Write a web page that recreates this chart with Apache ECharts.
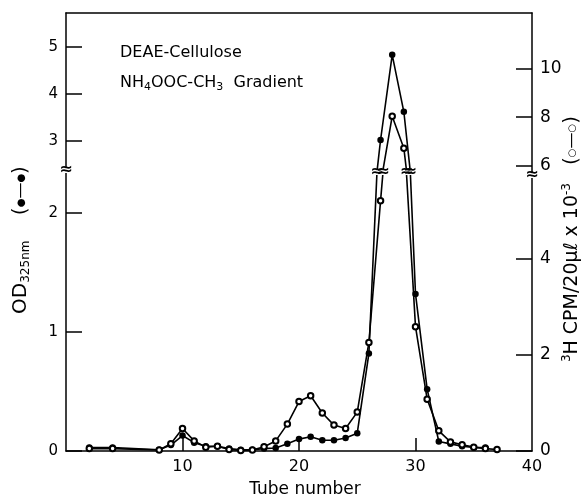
<!DOCTYPE html>
<html><head><meta charset="utf-8">
<script src="https://cdn.jsdelivr.net/npm/echarts@6/dist/echarts.min.js"></script>
<style>html,body{margin:0;padding:0;background:#fff}#c{width:586px;height:498px}</style>
</head><body><div id="c"></div>
<script>
// ---- data ----
const tubes      = [2, 4, 8, 9, 10, 11, 12, 13, 14, 15, 16, 17, 18, 19, 20, 21, 22, 23, 24, 25, 26, 27, 28, 29, 30, 31, 32, 33, 34, 35, 36, 37];
const odValues   = [0.03, 0.03, 0.01, 0.05, 0.13, 0.07, 0.04, 0.04, 0.02, 0.01, 0.01, 0.02, 0.025, 0.06, 0.10, 0.12, 0.09, 0.09, 0.11, 0.15, 0.82, 3.02, 4.83, 3.62, 1.32, 0.52, 0.08, 0.06, 0.04, 0.03, 0.03, null];
const cpmValues  = [0.05, 0.05, 0.02, 0.15, 0.47, 0.21, 0.08, 0.10, 0.03, 0.01, 0.02, 0.09, 0.21, 0.56, 1.03, 1.15, 0.79, 0.54, 0.47, 0.81, 2.26, 5.21, 8.04, 6.71, 2.59, 1.08, 0.42, 0.19, 0.13, 0.08, 0.05, 0.03];
const xTickLabels    = [10, 20, 30, 40];
const odLowerTicks   = [0, 1, 2];
const odUpperTicks   = [3, 4, 5];
const cpmLowerTicks  = [0, 2, 4];
const cpmUpperTicks  = [6, 8, 10];
const odLowerRange   = [0, 2.345];
const odUpperRange   = [2.34, 5.72];
const cpmLowerRange  = [0, 5.81];
const cpmUpperRange  = [5.72, 12.33];
const xRange         = [0, 40];
const annotation1 = 'DEAE-Cellulose';
const xTitle = 'Tube number';

// ---- layout ----
const L = 66, R = 532, T = 13, B = 451, BRK = 172;
const W = 586, H = 498;
const FONT = 'DejaVu Sans';

const odData  = tubes.map((t, i) => [t, odValues[i]]).filter(d => d[1] != null);
const cpmData = tubes.map((t, i) => [t, cpmValues[i]]).filter(d => d[1] != null);

const chart = echarts.init(document.getElementById('c'), null, {renderer: 'canvas'});

function yAx(grid, pos, range, ticks, fs, margin) {
  return {
    type: 'value', gridIndex: grid, position: pos, min: range[0], max: range[1],
    axisLine: {show: true, onZero: false, lineStyle: {color: '#000', width: 1.5}},
    axisTick: {show: true, inside: true, length: 16, customValues: ticks, lineStyle: {color: '#000', width: 1.5}},
    axisLabel: {show: true, customValues: ticks, color: '#000', fontFamily: FONT, fontSize: fs, margin: margin},
    splitLine: {show: false}
  };
}

const lineCommon = {
  type: 'line', clip: true, animation: false,
  lineStyle: {color: '#000', width: 1.6}
};
const filledStyle = {symbol: 'circle', symbolSize: 6.5, itemStyle: {color: '#000'}};
const openStyle = {symbol: 'emptyCircle', symbolSize: 5.5, itemStyle: {color: '#000', borderColor: '#000', borderWidth: 1.3}};

chart.setOption({
  backgroundColor: '#fff',
  animation: false,
  grid: [
    {left: L, right: W - R, top: BRK, bottom: H - B, outerBoundsMode: 'none', containLabel: false},
    {left: L, right: W - R, top: T, bottom: H - BRK, outerBoundsMode: 'none', containLabel: false}
  ],
  xAxis: [
    {
      type: 'value', gridIndex: 0, min: xRange[0], max: xRange[1], interval: 10,
      axisLine: {show: true, onZero: false, lineStyle: {color: '#000', width: 1.5}},
      axisTick: {show: true, inside: true, length: 13, customValues: [10, 20, 30], lineStyle: {color: '#000', width: 1.5}},
      axisLabel: {show: true, customValues: xTickLabels, color: '#000', fontFamily: FONT, fontSize: 16, margin: 8},
      splitLine: {show: false},
      name: xTitle, nameLocation: 'middle', nameGap: 30,
      nameTextStyle: {color: '#000', fontFamily: FONT, fontSize: 17, padding: [0, 0, 0, 12]}
    },
    {
      type: 'value', gridIndex: 1, position: 'top', min: xRange[0], max: xRange[1],
      axisLine: {show: true, onZero: false, lineStyle: {color: '#000', width: 1.5}},
      axisTick: {show: false}, axisLabel: {show: false}, splitLine: {show: false}
    }
  ],
  yAxis: [
    yAx(0, 'left', odLowerRange, odLowerTicks, 15, 8),
    yAx(0, 'right', cpmLowerRange, cpmLowerTicks, 17, 8),
    yAx(1, 'left', odUpperRange, odUpperTicks, 15, 8),
    yAx(1, 'right', cpmUpperRange, cpmUpperTicks, 17, 8)
  ],
  series: [
    Object.assign({}, lineCommon, filledStyle, {xAxisIndex: 0, yAxisIndex: 0, data: odData, z: 2}),
    Object.assign({}, lineCommon, openStyle,   {xAxisIndex: 0, yAxisIndex: 1, data: cpmData, z: 3}),
    Object.assign({}, lineCommon, filledStyle, {xAxisIndex: 1, yAxisIndex: 2, data: odData, z: 2}),
    Object.assign({}, lineCommon, openStyle,   {xAxisIndex: 1, yAxisIndex: 3, data: cpmData, z: 3})
  ]
});

// ---- break marks, positioned through the library's own scales ----
function breakMark(x, y) {
  return [
    {type: 'rect', shape: {x: x - 6, y: y - 3, width: 12, height: 6}, style: {fill: '#fff'}, z: 100},
    {type: 'text', x: x, y: y, z: 101, style: {text: '≈', fontFamily: FONT, fontSize: 16, fontWeight: 'bold', fill: '#000', align: 'center', verticalAlign: 'middle'}}
  ];
}
const marks = [];
marks.push(...breakMark(L, BRK - 2));
marks.push(...breakMark(R, BRK + 3));
[[odData, 0], [cpmData, 1]].forEach(([data, yi]) => {
  for (let i = 0; i < data.length - 1; i++) {
    const p1 = chart.convertToPixel({xAxisIndex: 0, yAxisIndex: yi}, data[i]);
    const p2 = chart.convertToPixel({xAxisIndex: 0, yAxisIndex: yi}, data[i + 1]);
    if ((p1[1] - BRK) * (p2[1] - BRK) < 0) {
      const f = (p1[1] - BRK) / (p1[1] - p2[1]);
      marks.push(...breakMark(p1[0] + f * (p2[0] - p1[0]), BRK));
    }
  }
});

const legendRich = {
  p: {fontFamily: FONT, fontSize: 20, fill: '#000', lineHeight: 22},
  d: {fontFamily: FONT, fontSize: 10, fill: '#000', lineHeight: 22},
  l: {fontFamily: FONT, fontSize: 16, fill: '#000', lineHeight: 22}
};

chart.setOption({
  graphic: marks.concat([
    {type: 'text', x: 120, y: 53, style: {text: annotation1, fontFamily: FONT, fontSize: 16, fontWeight: 500, fill: '#000', verticalAlign: 'middle'}},
    {type: 'text', x: 120, y: 83, style: {
      text: '{n|NH}{s|4}{n|OOC-CH}{s|3}{n|  Gradient}', verticalAlign: 'middle',
      rich: {
        n: {fontFamily: FONT, fontSize: 16, fill: '#000', lineHeight: 20},
        s: {fontFamily: FONT, fontSize: 11, fill: '#000', lineHeight: 11, verticalAlign: 'bottom'}
      }
    }},
    {type: 'text', x: 21, y: 240, rotation: Math.PI / 2, style: {
      text: '{n|OD}{s|325nm}{n|    }{p|(}{d|●}{l|—}{d|●}{p|)}', align: 'center', verticalAlign: 'middle',
      rich: Object.assign({
        n: {fontFamily: FONT, fontSize: 20, fill: '#000', lineHeight: 22},
        s: {fontFamily: FONT, fontSize: 12, fill: '#000', lineHeight: 12, verticalAlign: 'bottom'}
      }, legendRich)
    }},
    {type: 'text', x: 572, y: 239, rotation: Math.PI / 2, style: {
      text: '{s|3}{n|H CPM/20μℓ x 10}{s|-3}{n|   }{p|(}{d|○}{l|—}{d|○}{p|)}', align: 'center', verticalAlign: 'middle',
      rich: Object.assign({
        n: {fontFamily: FONT, fontSize: 19, fill: '#000', lineHeight: 22},
        s: {fontFamily: FONT, fontSize: 12, fill: '#000', lineHeight: 12, verticalAlign: 'top'}
      }, legendRich)
    }}
  ])
});
</script>
</body></html>
